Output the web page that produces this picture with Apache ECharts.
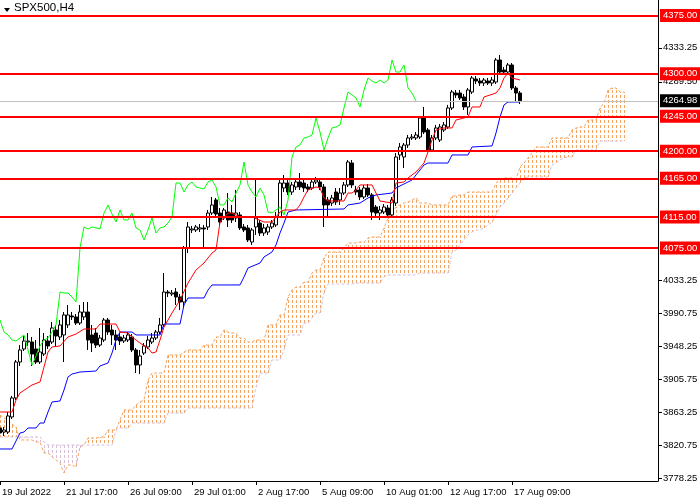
<!DOCTYPE html>
<html><head><meta charset="utf-8">
<script src="https://cdn.jsdelivr.net/npm/echarts@6/dist/echarts.min.js"></script>
<style>html,body{margin:0;padding:0;background:#fff}#c{width:700px;height:500px}</style>
</head><body><div id="c"></div>
<script>
// ---- data ----
const open = [
3842.9,3837.7,3837.7,3857.1,3881.6,3928.0,3944.8,3953.8,3953.8,3944.8,
3928.0,3938.3,3955.1,3953.8,3969.3,3960.3,3962.9,3975.8,3987.4,3986.1,
3978.3,3986.1,3992.5,3962.9,3965.4,3949.9,3956.4,3982.2,3969.3,3962.9,
3960.3,3955.1,3956.4,3960.3,3943.5,3924.2,3939.6,3947.4,3953.8,3959.0,
3966.7,3975.8,4018.3,4015.7,4018.3,4011.9,4005.4,4075.1,4098.3,4098.3,
4099.6,4100.9,4102.2,4120.2,4137.0,4120.2,4113.8,4121.5,4120.2,4113.8,
4117.7,4102.2,4100.9,4082.8,4102.2,4107.3,4094.4,4095.7,4102.2,4104.8,
4115.1,4152.5,4158.9,4147.3,4153.8,4160.2,4158.9,4153.8,4152.5,4160.2,
4160.2,4153.8,4137.0,4133.1,4147.3,4137.0,4146.0,4156.4,4184.7,4149.9,
4149.9,4140.9,4152.5,4143.5,4128.0,4120.2,4121.5,4126.7,4117.7,4133.1,
4195.1,4192.5,4207.9,4217.0,4217.0,4218.3,4242.8,4227.3,4201.5,4217.0,
4214.4,4227.3,4231.2,4255.7,4275.0,4275.0,4269.9,4257.0,4276.3,4293.1,
4290.5,4287.9,4290.5,4287.9,4289.2,4317.6,4304.7,4302.1,4311.2,4281.5,
4275.0];
const close = [
3836.4,3840.3,3858.4,3881.6,3928.0,3943.5,3955.1,3955.1,3938.3,3928.0,
3940.9,3956.4,3948.7,3971.9,3961.6,3975.8,3988.7,3988.7,3986.1,3978.3,
3992.5,3992.5,3956.4,3952.5,3949.9,3959.0,3982.2,3966.7,3962.9,3956.4,
3955.1,3959.0,3962.9,3943.5,3924.2,3935.8,3948.7,3956.4,3959.0,3966.7,
3975.8,4018.3,4017.0,4017.0,4011.9,4005.4,4075.1,4102.2,4099.6,4102.2,
4101.0,4099.6,4120.2,4130.6,4118.9,4108.6,4124.1,4111.2,4111.2,4120.2,
4100.9,4098.3,4085.4,4098.3,4113.8,4094.4,4100.9,4102.2,4107.3,4115.1,
4158.9,4158.9,4147.3,4156.4,4160.2,4153.8,4152.5,4151.2,4160.2,4162.8,
4153.8,4130.6,4130.6,4139.6,4134.4,4146.0,4156.4,4186.0,4156.4,4147.3,
4140.9,4152.5,4143.5,4121.5,4120.2,4124.1,4128.0,4117.7,4137.0,4192.5,
4205.4,4207.9,4217.0,4218.3,4220.9,4242.8,4224.7,4201.5,4217.0,4229.9,
4231.2,4233.8,4255.7,4276.3,4272.5,4268.6,4257.0,4278.9,4294.4,4290.5,
4287.9,4291.8,4287.9,4291.8,4317.6,4302.1,4302.1,4311.2,4281.5,4275.0,
4264.98];
const high = [
3846.8,3844.2,3863.5,3884.2,3930.6,3949.9,3961.6,3965.4,3960.3,3956.4,
3971.9,3965.4,3961.6,3979.6,3975.8,3982.2,3992.5,4001.6,3992.5,3989.9,
4001.6,4005.4,4005.4,3975.8,3971.9,3962.9,3984.8,3984.8,3975.8,3969.3,
3965.4,3962.9,3966.7,3964.1,3946.1,3943.5,3952.5,3961.6,3965.4,3969.3,
3984.8,4042.8,4020.9,4020.9,4023.5,4015.7,4077.7,4108.6,4103.5,4104.8,
4106.0,4104.8,4124.1,4140.9,4139.6,4126.7,4126.7,4146.0,4130.6,4149.9,
4121.5,4106.0,4104.8,4100.9,4162.8,4111.2,4106.0,4106.0,4111.2,4121.5,
4162.8,4169.3,4162.8,4160.2,4165.4,4171.8,4162.8,4157.6,4162.8,4166.7,
4164.1,4157.6,4140.9,4143.5,4152.5,4152.5,4160.2,4188.6,4188.6,4155.1,
4153.8,4156.4,4157.6,4146.0,4130.6,4129.3,4131.8,4130.6,4140.9,4197.6,
4210.5,4210.5,4220.9,4222.1,4224.7,4245.4,4257.0,4229.9,4220.9,4233.8,
4235.0,4237.6,4259.6,4278.9,4278.9,4278.9,4273.7,4281.5,4297.0,4297.0,
4294.4,4294.4,4294.4,4295.7,4320.2,4324.1,4308.6,4313.7,4313.7,4284.1,
4277.6];
const low = [
3831.3,3832.6,3835.1,3854.5,3879.0,3922.9,3942.2,3948.7,3922.9,3925.4,
3925.4,3935.8,3944.8,3951.2,3948.7,3956.4,3928.0,3971.9,3982.2,3975.8,
3975.8,3982.2,3943.5,3940.9,3946.1,3947.4,3953.8,3962.9,3949.9,3943.5,
3949.9,3952.5,3953.8,3940.9,3913.8,3912.5,3937.1,3944.8,3951.2,3956.4,
3964.1,3973.2,4011.9,4013.2,4001.6,3995.1,3999.0,4068.6,4094.4,4095.7,
4095.7,4076.4,4098.3,4117.7,4116.4,4104.8,4111.2,4102.2,4107.3,4108.6,
4098.3,4095.7,4082.8,4079.0,4091.9,4090.6,4090.6,4091.9,4099.6,4102.2,
4113.8,4147.3,4143.5,4143.5,4149.9,4149.9,4147.3,4147.3,4149.9,4157.6,
4149.9,4102.2,4115.1,4129.3,4130.6,4130.6,4143.5,4153.8,4152.5,4143.5,
4137.0,4138.3,4140.9,4111.2,4113.8,4111.2,4118.9,4115.1,4115.1,4129.3,
4188.6,4178.3,4204.1,4214.4,4214.4,4215.7,4222.1,4198.9,4198.9,4214.4,
4211.8,4224.7,4228.6,4253.1,4268.6,4266.0,4253.1,4246.7,4273.7,4286.6,
4284.1,4284.1,4285.4,4284.1,4286.6,4299.5,4298.3,4298.3,4278.9,4263.4,
4260.8];
// Tenkan-sen (red) and Kijun-sen (blue): [bar, price] at the corners of the lines
const tenkan = [[0,3863.5],[3,3863.5],[4,3879.0],[5,3888.0],[8,3898.4],[10,3902.2],[11,3921.6],[12,3940.9],[13,3947.4],[15,3948.7],[17,3960.3],[19,3964.1],[21,3970.6],[24,3970.6],[25,3977.0],[29,3977.0],[30,3966.7],[32,3965.4],[33,3960.3],[35,3952.5],[37,3946.1],[38,3939.6],[39,3940.9],[40,3956.4],[41,3973.2],[43,3991.2],[45,4008.0],[47,4029.9],[49,4046.7],[51,4055.7],[52,4062.2],[53,4068.6],[54,4072.5],[55,4108.6],[57,4120.2],[58,4120.2],[60,4115.1],[63,4115.1],[66,4108.6],[68,4108.6],[70,4121.5],[71,4124.1],[74,4124.1],[75,4130.6],[76,4140.9],[77,4149.9],[79,4153.8],[80,4152.5],[81,4139.6],[82,4135.7],[86,4135.7],[87,4146.0],[88,4146.0],[89,4149.9],[90,4156.4],[93,4156.4],[94,4146.0],[95,4135.7],[98,4133.1],[99,4158.9],[101,4160.2],[102,4165.4],[104,4173.1],[106,4184.7],[107,4198.9],[108,4214.4],[109,4227.3],[111,4229.9],[113,4229.9],[114,4240.2],[117,4244.1],[118,4257.0],[120,4257.0],[121,4269.9],[124,4275.0],[125,4281.5],[126,4294.4],[127,4300.8],[128,4294.4],[130,4291.8]];
const kijun = [[0,3815.8],[3,3815.8],[5,3836.4],[6,3837.7],[7,3842.9],[9,3842.9],[10,3849.3],[11,3849.3],[12,3863.5],[13,3876.4],[15,3877.7],[16,3891.9],[17,3908.7],[18,3912.5],[20,3915.1],[24,3916.4],[25,3922.9],[27,3926.7],[28,3939.6],[29,3956.4],[30,3966.7],[33,3966.7],[34,3962.9],[40,3962.9],[41,3977.0],[45,3977.0],[46,4001.6],[47,4010.6],[51,4010.6],[52,4020.9],[53,4027.4],[60,4027.4],[61,4037.7],[62,4049.3],[65,4055.7],[66,4063.5],[68,4069.9],[69,4079.0],[70,4094.4],[71,4107.3],[72,4121.5],[74,4124.1],[86,4125.4],[87,4130.6],[90,4133.1],[92,4139.6],[94,4143.5],[98,4146.0],[99,4152.5],[100,4155.1],[102,4160.2],[103,4162.8],[104,4169.3],[106,4182.2],[107,4184.7],[112,4184.7],[113,4195.1],[117,4195.1],[118,4205.4],[123,4206.7],[124,4223.4],[125,4244.1],[126,4259.6],[127,4263.4],[130,4263.4]];
// Senkou span A / B, one value per bar (already shifted 26 bars ahead)
const senkouA = [
3859.7,3855.8,3853.2,3848.0,3844.2,3827.4,3827.4,3827.4,3827.4,3824.8,
3824.8,3810.6,3810.6,3805.5,3801.6,3797.7,3784.8,3795.2,3795.2,3792.6,
3818.4,3820.9,3830.0,3830.0,3830.0,3831.3,3831.3,3840.3,3840.3,3840.3,
3853.2,3866.1,3866.1,3866.1,3872.6,3876.4,3879.0,3904.8,3913.8,3913.8,
3913.8,3913.8,3937.1,3937.1,3937.1,3937.1,3940.9,3943.5,3943.5,3943.5,
3943.5,3949.9,3949.9,3949.9,3960.3,3960.3,3969.3,3966.7,3965.4,3965.4,
3959.0,3959.0,3953.8,3953.8,3956.4,3956.4,3956.4,3975.8,3975.8,3975.8,
3988.7,3988.7,4011.9,4020.9,4024.8,4024.8,4031.2,4031.2,4042.8,4046.7,
4046.7,4062.2,4069.9,4069.9,4069.9,4069.9,4075.1,4081.5,4081.5,4081.5,
4082.8,4082.8,4088.0,4089.3,4089.3,4089.3,4100.9,4113.8,4120.2,4128.0,
4130.6,4133.1,4134.4,4137.0,4139.6,4133.1,4133.1,4133.1,4130.6,4130.6,
4130.6,4130.6,4130.6,4142.2,4142.2,4143.5,4143.5,4147.3,4147.3,4147.3,
4147.3,4147.3,4147.3,4147.3,4158.9,4162.8,4165.4,4165.4,4165.4,4164.1,
4179.6,4184.7,4191.2,4197.6,4205.4,4205.4,4205.4,4205.4,4217.0,4217.0,
4217.0,4217.0,4217.0,4227.3,4229.9,4231.2,4231.2,4240.2,4240.2,4240.2,
4255.7,4262.1,4278.9,4281.5,4281.5,4276.3,4276.3];
const senkouB = [
3831.3,3831.3,3831.3,3831.3,3831.3,3831.3,3831.3,3831.3,3831.3,3831.3,
3831.3,3824.8,3820.9,3820.9,3820.9,3820.9,3820.9,3820.9,3820.9,3820.9,
3820.9,3820.9,3820.9,3820.9,3820.9,3820.9,3820.9,3820.9,3820.9,3840.3,
3842.9,3842.9,3842.9,3849.3,3849.3,3849.3,3849.3,3849.3,3849.3,3849.3,
3849.3,3849.3,3862.2,3862.2,3862.2,3862.2,3862.2,3868.7,3868.7,3868.7,
3868.7,3868.7,3868.7,3868.7,3868.7,3868.7,3868.7,3868.7,3868.7,3868.7,
3868.7,3868.7,3868.7,3868.7,3895.8,3913.8,3913.8,3913.8,3930.6,3930.6,
3930.6,3943.5,3962.9,3962.9,3962.9,3962.9,3978.3,3978.3,3984.8,3991.2,
3991.2,4017.0,4028.6,4028.6,4028.6,4028.6,4028.6,4028.6,4028.6,4029.9,
4029.9,4029.9,4029.9,4029.9,4029.9,4029.9,4037.7,4040.3,4040.3,4040.3,
4040.3,4040.3,4040.3,4040.3,4040.3,4042.8,4042.8,4042.8,4042.8,4042.8,
4042.8,4042.8,4042.8,4069.9,4072.5,4079.0,4085.4,4091.9,4095.7,4098.3,
4098.3,4100.9,4104.8,4108.6,4117.7,4128.0,4133.1,4139.6,4146.0,4152.5,
4158.9,4165.4,4166.7,4166.7,4166.7,4166.7,4166.7,4166.7,4182.2,4184.7,
4188.6,4191.2,4192.5,4192.5,4201.5,4201.5,4201.5,4201.5,4201.5,4201.5,
4213.1,4213.1,4213.1,4213.1,4213.1,4213.1,4213.1];
const levels = [4375, 4300, 4245, 4200, 4165, 4115, 4075];
const lastPrice = 4264.98;
const yTicks = [4333.25, 4289.50, 4033.25, 3990.75, 3948.25, 3905.75, 3863.25, 3820.75, 3778.25];
const timeLabels = ['19 Jul 2022','21 Jul 17:00','26 Jul 09:00','29 Jul 01:00','2 Aug 17:00','5 Aug 09:00','10 Aug 01:00','12 Aug 17:00','17 Aug 09:00'];
const LABEL_STEP = 16;
const CHIKOU_SHIFT = 26;
const N_BARS = 165;

// ---- chart ----
const FONT = 'Liberation Sans';
const UP_KUMO = '#F4A460', DOWN_KUMO = '#D8BFD8';
const categories = Array.from({length: N_BARS}, (_, i) => String(i));
const candles = open.map((o, i) => [o, close[i], low[i], high[i]]);
const chikou = close.slice(CHIKOU_SHIFT).map((c, i) => [i, c]);
const cloud = senkouA.map((a, i) => [i, a, senkouB[i]]);
const labelShown = i => i % LABEL_STEP === 0 && (i / LABEL_STEP) < timeLabels.length;

function renderKumo(params, api) {
  const i = api.value(0);
  const a = senkouA[i], b = senkouB[i];
  if (a === b) return null;
  const pa = api.coord([i, a]), pb = api.coord([i, b]);
  const x = 2 * Math.round(pa[0] / 2);
  const top = Math.min(pa[1], pb[1]), bot = Math.max(pa[1], pb[1]);
  const color = a > b ? UP_KUMO : DOWN_KUMO;
  const children = [];
  let y = Math.ceil(top / 5) * 5;
  if (y - top > 2) children.push({type: 'rect', shape: {x: x, y: Math.round(top), width: 1, height: Math.max(1, y - 2 - Math.round(top))}, style: {fill: color}});
  for (; y < bot; y += 5) {
    const h = Math.min(3, bot - y);
    if (h >= 1) children.push({type: 'rect', shape: {x: x, y: y, width: 1, height: Math.round(h)}, style: {fill: color}});
  }
  return {type: 'group', children: children};
}

const chart = echarts.init(document.getElementById('c'), null, {renderer: 'canvas'});
chart.setOption({
  animation: false,
  backgroundColor: '#ffffff',
  grid: {left: -2, right: 42, top: 0, bottom: 19, containLabel: false, outerBoundsMode: 'none'},
  graphic: [
    {type: 'polygon', shape: {points: [[4, 8], [10, 8], [7, 12]]}, style: {fill: '#000'}},
    {type: 'text', left: 14, top: 2, style: {text: 'SPX500,H4', fill: '#000', font: '11.5px "' + FONT + '"'}}
  ],
  xAxis: {
    type: 'category', data: categories, boundaryGap: true,
    axisLine: {show: true, onZero: false, lineStyle: {color: '#000', width: 1}},
    axisTick: {show: true, alignWithLabel: true, interval: labelShown, length: 4, lineStyle: {color: '#000'}},
    axisLabel: {
      interval: labelShown, align: 'left', margin: 6, color: '#000', padding: [0, 0, 0, 2],
      fontFamily: FONT, fontSize: 9.5,
      formatter: (v, i) => timeLabels[Math.round(Number(v) / LABEL_STEP)] || ''
    },
    splitLine: {show: false}
  },
  yAxis: {
    type: 'value', position: 'right', min: 3774.5, max: 4395, scale: true,
    axisLine: {show: true, lineStyle: {color: '#000', width: 1}},
    axisTick: {show: true, length: 4, customValues: yTicks, lineStyle: {color: '#000'}},
    axisLabel: {show: true, customValues: yTicks, margin: 5, color: '#000', fontFamily: FONT, fontSize: 9.5,
      formatter: v => Number(v).toFixed(2)},
    splitLine: {show: false}
  },
  series: [
    {type: 'custom', name: 'kumo', z: 1, silent: true, clip: true,
      data: cloud, encode: {x: 0, y: [1, 2]}, renderItem: renderKumo},
    {type: 'line', name: 'Senkou A', z: 2, data: senkouA, showSymbol: false, silent: true,
      lineStyle: {color: UP_KUMO, width: 1, type: [3, 2]}},
    {type: 'line', name: 'Senkou B', z: 2, data: senkouB, showSymbol: false, silent: true,
      lineStyle: {color: DOWN_KUMO, width: 1, type: [3, 2]}},
    {type: 'candlestick', name: 'SPX500', z: 3, data: candles, barWidth: 3, silent: true,
      itemStyle: {color: '#ffffff', color0: '#000000', borderColor: '#000000', borderColor0: '#000000', borderWidth: 1}},
    {type: 'line', name: 'Chikou', z: 4, data: chikou, showSymbol: false, silent: true,
      lineStyle: {color: '#00FF00', width: 1}},
    {type: 'line', name: 'Kijun', z: 4, data: kijun, showSymbol: false, silent: true,
      lineStyle: {color: '#0000FF', width: 1}},
    {type: 'line', name: 'Tenkan', z: 4, data: tenkan, showSymbol: false, silent: true,
      lineStyle: {color: '#FF0000', width: 1}},
    {type: 'line', name: 'levels', z: 6, data: [], silent: true,
      markLine: {
        silent: true, symbol: 'none', animation: false,
        data: levels.map(v => ({
          yAxis: v,
          lineStyle: {color: '#FF0000', width: 2, type: 'solid'},
          label: {show: true, position: 'end', distance: 2, formatter: v.toFixed(2), color: '#ffffff',
            backgroundColor: '#FF0000', padding: [2, 3, 1, 3], fontFamily: FONT, fontSize: 9.5}
        })).concat([{
          yAxis: lastPrice,
          lineStyle: {color: '#C0C0C0', width: 1, type: 'solid'},
          label: {show: true, position: 'end', distance: 2, formatter: lastPrice.toFixed(2), color: '#ffffff',
            backgroundColor: '#000000', padding: [2, 3, 1, 3], fontFamily: FONT, fontSize: 9.5}
        }])
      }
    }
  ]
});
</script>
</body></html>
